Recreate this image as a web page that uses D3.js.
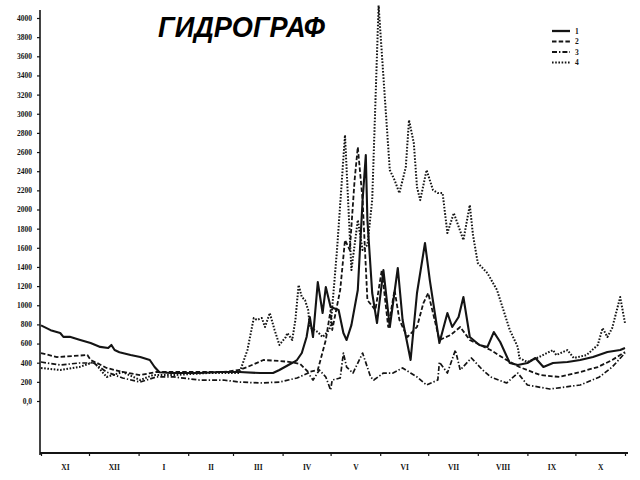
<!DOCTYPE html>
<html>
<head>
<meta charset="utf-8">
<script src="https://cdn.jsdelivr.net/npm/d3@7"></script>
<style>
  html, body { margin: 0; padding: 0; background: #fff; }
  svg { display: block; }
</style>
</head>
<body>
<svg id="chart" width="640" height="480"></svg>
<script>
// ---- data (day of hydrological year from 1 Nov, discharge) ----
const title = "ГИДРОГРАФ";
const monthLabels = ["XI","XII","I","II","III","IV","V","VI","VII","VIII","IX","X"];
const monthStarts = [0,30,61,92,120,151,181,212,242,273,304,334,365];
const yTicks = [0,200,400,600,800,1000,1200,1400,1600,1800,2000,2200,2400,2600,2800,3000,3200,3400,3600,3800,4000];
const seriesNames = ["1","2","3","4"];

const s1Days = [0,6,12,14,18,24,31,37,42,44,46,49,56,62,68,71,74,81,87,99,112,124,137,145,149,158,160,163,166,168,170,173,176,178,181,186,189,191,194,198,201,203,204,207,210,214,218,223,226,231,235,240,243,249,254,257,261,264,268,274,279,283,287,293,298,304,309,314,320,329,337,345,354,362,365];
const s1Flow = [790,740,710,670,670,640,605,565,553,585,532,510,480,460,428,355,300,292,292,292,303,303,292,292,324,407,428,501,668,877,668,1242,919,1190,981,950,710,637,793,1159,2098,2568,1890,1128,814,1368,773,1389,846,428,1128,1650,1263,606,919,773,877,1086,668,585,564,720,616,397,376,397,449,355,397,407,428,459,512,532,553];

const s2Days = [0,10,29,31,35,41,51,62,72,93,114,124,129,139,149,156,162,167,173,178,181,182,187,190,193,196,198,201,204,209,213,217,221,224,229,235,239,242,245,249,256,262,268,281,291,299,312,324,337,348,357,365];
const s2Flow = [500,459,480,428,397,345,303,271,303,303,303,324,355,428,418,407,386,303,324,637,950,741,1159,1681,1576,2307,2652,2098,1054,950,1368,773,1159,846,668,773,1023,1128,919,637,689,773,637,532,428,355,271,251,303,355,428,512];

const s3Days = [0,12,24,33,41,51,62,72,83,99,114,124,137,149,160,167,170,174,178,181,182,187,189,191,195,201,206,208,214,220,226,231,235,241,248,249,254,259,262,269,276,281,291,298,304,318,337,349,357,365];
const s3Flow = [407,376,397,397,303,240,198,251,251,219,219,198,188,198,240,292,219,324,251,115,219,240,501,355,292,501,251,219,292,292,345,292,251,167,219,407,292,532,324,449,324,251,188,292,167,125,167,251,355,501];

const s4Days = [0,12,24,33,41,51,62,70,83,104,124,129,133,135,138,140,143,146,149,153,154,157,159,161,163,165,167,168,173,176,179,181,185,190,194,198,201,204,207,211,215,218,221,224,228,230,233,235,237,241,245,248,251,254,258,264,268,270,273,279,285,289,293,298,299,304,310,320,322,329,333,341,348,351,354,357,362,365];
const s4Flow = [345,324,355,407,251,303,219,271,271,292,292,532,867,846,867,773,919,741,585,668,710,637,846,1211,1086,1054,950,773,720,668,720,773,1576,2777,1368,1890,1576,1629,2098,4130,3142,2412,2307,2172,2443,2934,2694,2234,2098,2412,2203,2172,2172,1754,1963,1681,2046,1733,1441,1336,1159,950,741,564,449,407,449,532,480,532,449,480,585,762,668,762,1086,814];

const seriesDays = [s1Days, s2Days, s3Days, s4Days];
const seriesFlow = [s1Flow, s2Flow, s3Flow, s4Flow];
const dashes = [null, "4.5,2.2", "5,2,1.4,2", "1.6,1.6"];
const widths = [2.1, 1.8, 1.7, 2.0];

// ---- drawing ----
const svg = d3.select("#chart");
const ink = "#141414";

const x = d3.scaleLinear().domain([0, 365]).range([41, 625]);
const y = d3.scaleLinear().domain([0, 4000]).range([401, 18]);

// y axis
const yAxis = d3.axisLeft(y)
  .tickValues(yTicks)
  .tickSize(3)
  .tickPadding(5)
  .tickFormat(d => d === 0 ? "0,0" : String(d));
const gy = svg.append("g").attr("transform", "translate(40,0)").call(yAxis);
gy.select(".domain").remove();
gy.selectAll("line").attr("stroke", ink).attr("stroke-width", 1.2);
gy.selectAll("text")
  .attr("fill", ink)
  .attr("font-family", "Liberation Serif, DejaVu Serif, serif")
  .attr("font-weight", "bold")
  .attr("font-size", 7.5);
svg.append("line").attr("x1", 40).attr("x2", 40).attr("y1", 10).attr("y2", 455)
  .attr("stroke", ink).attr("stroke-width", 1.6);

// x axis: boundaries
const xAxisTicks = d3.axisBottom(x).tickValues(monthStarts).tickSize(3).tickFormat("");
const gx = svg.append("g").attr("transform", "translate(0,453)").call(xAxisTicks);
gx.select(".domain").remove();
gx.selectAll("line").attr("stroke", ink).attr("stroke-width", 1.2);
svg.append("line").attr("x1", 40).attr("x2", 628).attr("y1", 453).attr("y2", 453)
  .attr("stroke", ink).attr("stroke-width", 1.8);

// x axis: month labels at mid-month
const mids = monthLabels.map((m, i) => (monthStarts[i] + monthStarts[i + 1]) / 2);
const xAxisLabels = d3.axisBottom(x).tickValues(mids).tickSize(0).tickPadding(12)
  .tickFormat((d, i) => monthLabels[i]);
const gl = svg.append("g").attr("transform", "translate(0,453)").call(xAxisLabels);
gl.select(".domain").remove();
gl.selectAll("text")
  .attr("fill", ink)
  .attr("font-family", "Liberation Serif, DejaVu Serif, serif")
  .attr("font-weight", "bold")
  .attr("font-size", 7.5);

// lines
const line = d3.line().x(d => x(d[0])).y(d => y(d[1]));
seriesDays.forEach((days, i) => {
  const pts = days.map((d, j) => [d, seriesFlow[i][j]]);
  svg.append("path")
    .datum(pts)
    .attr("d", line)
    .attr("fill", "none")
    .attr("stroke", ink)
    .attr("stroke-width", widths[i])
    .attr("stroke-linejoin", "round")
    .attr("stroke-dasharray", dashes[i]);
});

// legend
const legY = [31, 41.5, 52, 62.5];
seriesNames.forEach((n, i) => {
  svg.append("line")
    .attr("x1", 552).attr("x2", 570).attr("y1", legY[i]).attr("y2", legY[i])
    .attr("stroke", ink).attr("stroke-width", widths[i] + 0.2)
    .attr("stroke-dasharray", dashes[i]);
  svg.append("text")
    .attr("x", 575).attr("y", legY[i] + 2.5)
    .attr("fill", ink)
    .attr("font-family", "Liberation Serif, DejaVu Serif, serif")
    .attr("font-weight", "bold")
    .attr("font-size", 7.5)
    .text(n);
});

// title
svg.append("text")
  .attr("x", 158).attr("y", 37)
  .attr("font-family", "Liberation Sans, Arial, sans-serif")
  .attr("font-weight", "bold")
  .attr("font-style", "italic")
  .attr("font-size", 30)
  .attr("textLength", 167)
  .attr("lengthAdjust", "spacingAndGlyphs")
  .attr("fill", "#000")
  .text(title);
</script>
</body>
</html>
